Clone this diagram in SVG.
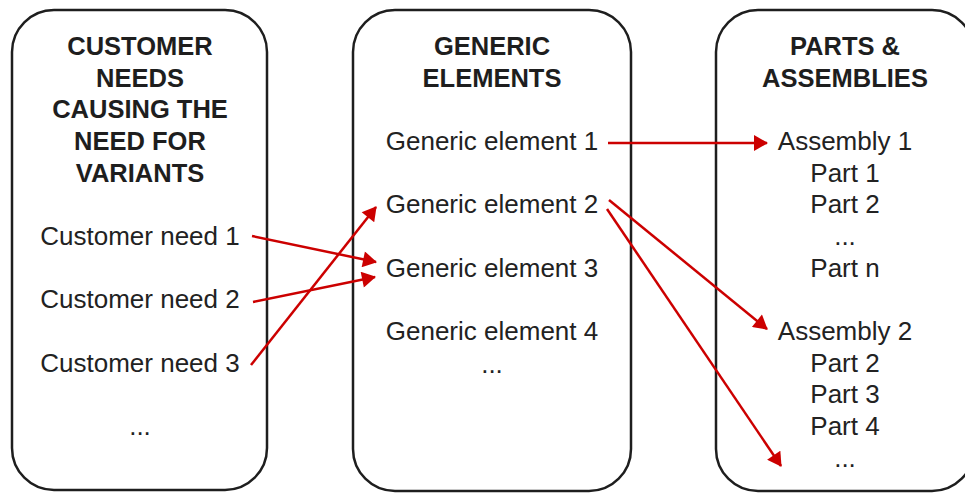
<svg xmlns="http://www.w3.org/2000/svg" width="965" height="493" viewBox="0 0 965 493">
  <defs>
    <style>
      .box { fill: #ffffff; stroke: #1e1e1e; stroke-width: 2.5; }
      .title { font-family: "Liberation Sans", Arial, sans-serif; font-size: 25.5px; font-weight: bold; fill: #1e1e1e; text-anchor: middle; }
      .item { font-family: "Liberation Sans", Arial, sans-serif; font-size: 26px; fill: #222222; text-anchor: middle; }
      .link { fill: none; stroke: #cc0000; stroke-width: 2.5; marker-end: url(#arrow); }
    </style>
    <marker id="arrow" markerUnits="userSpaceOnUse" markerWidth="16" markerHeight="16" viewBox="0 0 14 16" refX="13" refY="8" orient="auto">
      <path d="M0,0 L14,8 L0,16 Z" fill="#cc0000"/>
    </marker>
  </defs>
  <rect width="965" height="493" fill="#ffffff"/>

  <!-- Column 1: customer needs -->
  <g id="customer-needs">
    <rect class="box" x="12" y="10" width="255" height="480" rx="42" ry="42"/>
    <text class="title" x="140" y="55">CUSTOMER</text>
    <text class="title" x="140" y="87">NEEDS</text>
    <text class="title" x="140" y="118">CAUSING THE</text>
    <text class="title" x="140" y="150">NEED FOR</text>
    <text class="title" x="140" y="182">VARIANTS</text>
    <text class="item" x="140" y="245">Customer need 1</text>
    <text class="item" x="140" y="308">Customer need 2</text>
    <text class="item" x="140" y="372">Customer need 3</text>
    <text class="item" x="140" y="435">...</text>
  </g>

  <!-- Column 2: generic elements -->
  <g id="generic-elements">
    <rect class="box" x="353" y="10" width="278" height="481" rx="42" ry="42"/>
    <text class="title" x="492" y="55">GENERIC</text>
    <text class="title" x="492" y="87">ELEMENTS</text>
    <text class="item" x="492" y="150">Generic element 1</text>
    <text class="item" x="492" y="213">Generic element 2</text>
    <text class="item" x="492" y="277">Generic element 3</text>
    <text class="item" x="492" y="340">Generic element 4</text>
    <text class="item" x="492" y="373">...</text>
  </g>

  <!-- Column 3: parts and assemblies -->
  <g id="parts-assemblies">
    <rect class="box" x="716" y="10" width="258" height="481" rx="42" ry="42"/>
    <text class="title" x="845" y="55">PARTS &amp;</text>
    <text class="title" x="845" y="87">ASSEMBLIES</text>
    <text class="item" x="845" y="150">Assembly 1</text>
    <text class="item" x="845" y="182">Part 1</text>
    <text class="item" x="845" y="213">Part 2</text>
    <text class="item" x="845" y="245">...</text>
    <text class="item" x="845" y="277">Part n</text>
    <text class="item" x="845" y="340">Assembly 2</text>
    <text class="item" x="845" y="372">Part 2</text>
    <text class="item" x="845" y="403">Part 3</text>
    <text class="item" x="845" y="435">Part 4</text>
    <text class="item" x="845" y="467">...</text>
  </g>

  <!-- Connectors -->
  <g id="connectors">
    <line class="link" x1="252" y1="236" x2="376" y2="262"/>
    <line class="link" x1="253" y1="302" x2="375" y2="277"/>
    <line class="link" x1="251" y1="365" x2="376" y2="207"/>
    <line class="link" x1="608" y1="143" x2="767" y2="143"/>
    <line class="link" x1="609" y1="200" x2="767" y2="329"/>
    <line class="link" x1="607" y1="209" x2="781" y2="466"/>
  </g>
</svg>
